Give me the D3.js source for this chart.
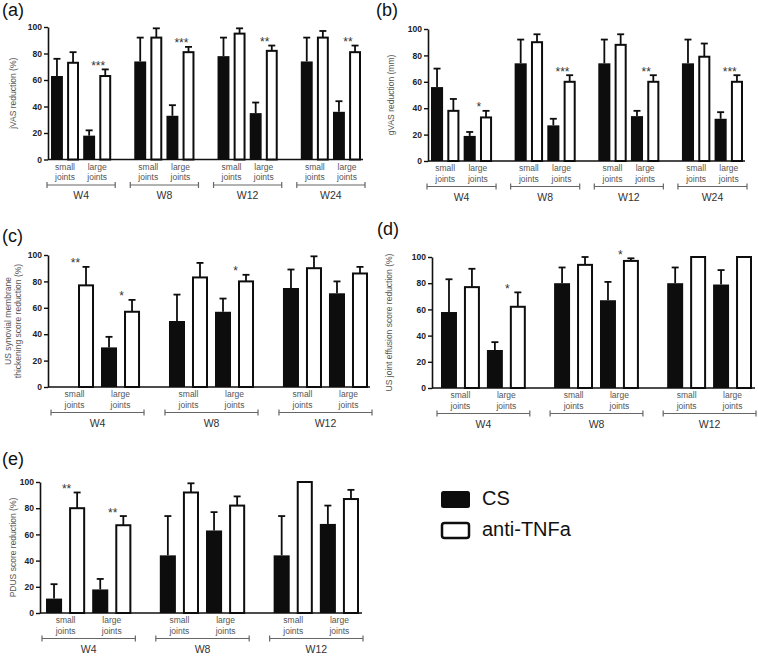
<!DOCTYPE html>
<html><head><meta charset="utf-8">
<script src="https://cdn.jsdelivr.net/npm/d3@7"></script>
<style>body{margin:0;background:#fff} svg{display:block;font-family:"Liberation Sans",Arial,sans-serif}</style>
</head><body><svg id="chart" width="758" height="657"></svg>
<script>
// ---------- data ----------
const weeksAB = ["W4","W8","W12","W24"];
const weeksCDE = ["W4","W8","W12"];
const jointTypes = ["small","large"];
const yTicks = [0,20,40,60,80,100];
const seriesNames = ["CS","anti-TNFa"];

// order per week: small, large
const aCS = [63,18, 74,33, 78,35, 74,36];
const aCSerr = [13,4, 18,8, 14,8, 18,8];
const aTNF = [73,63, 92,81, 95,82, 92,81];
const aTNFerr = [8,5, 7,4, 4,4, 5,5];
const aStars = ["","***", "","***", "","**", "","**"];

const bCS = [56,19, 74,27, 74,34, 74,32];
const bCSerr = [14,3, 18,5, 18,4, 18,5];
const bTNF = [38,33, 90,60, 88,60, 79,60];
const bTNFerr = [9,5, 6,5, 8,5, 10,5];
const bStars = ["","*", "","***", "","**", "","***"];

const cCS = [0,30, 50,57, 75,71];
const cCSerr = [0,8, 20,10, 14,9];
const cTNF = [77,57, 83,80, 90,86];
const cTNFerr = [14,9, 11,5, 9,5];
const cStars = ["**","*", "","*", "",""];

const dCS = [58,29, 80,67, 80,79];
const dCSerr = [25,6, 12,14, 12,11];
const dTNF = [77,62, 94,97, 100,100];
const dTNFerr = [14,11, 6,2, 0,0];
const dStars = ["","*", "","*", "",""];

const eCS = [11,18, 44,63, 44,68];
const eCSerr = [11,8, 30,14, 30,14];
const eTNF = [80,67, 92,82, 100,87];
const eTNFerr = [12,7, 7,7, 0,7];
const eStars = ["**","**", "","", "",""];

// ---------- layout ----------
const panels = [
  {label:"(a)", lx:2, ly:16, weeks:weeksAB, cs:aCS, csErr:aCSerr, tnf:aTNF, tnfErr:aTNFerr, stars:aStars,
   axisX:48, y0:159.5, y100:27, xs:51, xe:361, padG:0.277, padB:0.26, baseEnd:363,
   title:["jVAS reduction (%)"], tx:14},
  {label:"(b)", lx:376, ly:16, weeks:weeksAB, cs:bCS, csErr:bCSerr, tnf:bTNF, tnfErr:bTNFerr, stars:bStars,
   axisX:428, y0:161, y100:29, xs:431, xe:743, padG:0.27, padB:0.26, baseEnd:745,
   title:["gVAS reduction (mm)"], tx:392},
  {label:"(c)", lx:2, ly:242, weeks:weeksCDE, cs:cCS, csErr:cCSerr, tnf:cTNF, tnfErr:cTNFerr, stars:cStars,
   axisX:48, y0:387, y100:255, xs:55, xe:368, padG:0.254, padB:0.304, baseEnd:370,
   title:["US synovial membrane","thickening score reduction (%)"], tx:14},
  {label:"(d)", lx:377, ly:235, weeks:weeksCDE, cs:dCS, csErr:dCSerr, tnf:dTNF, tnfErr:dTNFerr, stars:dStars,
   axisX:432, y0:388, y100:257, xs:441, xe:752, padG:0.25, padB:0.304, baseEnd:755,
   title:["US joint effusion score reduction (%)"], tx:390},
  {label:"(e)", lx:2, ly:465, weeks:weeksCDE, cs:eCS, csErr:eCSerr, tnf:eTNF, tnfErr:eTNFerr, stars:eStars,
   axisX:40, y0:613, y100:482, xs:46, xe:359, padG:0.25, padB:0.304, baseEnd:362,
   title:["PDUS score reduction (%)"], tx:14}
];

const svg = d3.select("#chart");
const black = "#0d0d0d";
const grey = "#555";

function drawPanel(p) {
  const g = svg.append("g");
  const y = d3.scaleLinear().domain([0,100]).range([p.y0, p.y100]);
  const xg = d3.scaleBand().domain(p.weeks).range([p.xs, p.xe]).paddingInner(p.padG).paddingOuter(0);
  const xb = d3.scaleBand().domain([0,1,2,3]).range([0, xg.bandwidth()]).paddingInner(p.padB).paddingOuter(0);

  // panel label
  g.append("text").attr("x", p.lx).attr("y", p.ly).attr("font-size", 18).attr("fill", "#111").text(p.label);

  // y axis
  const ax = g.append("g").attr("transform", `translate(${p.axisX},0)`)
    .call(d3.axisLeft(y).tickValues(yTicks).tickSize(4).tickSizeOuter(0).tickPadding(2));
  ax.select(".domain").attr("stroke", "#111").attr("stroke-width", 1.6);
  ax.selectAll(".tick line").attr("stroke", "#111").attr("stroke-width", 1.4);
  ax.selectAll(".tick text").attr("font-size", 8.5).attr("font-weight", "bold").attr("fill", "#222")
    .attr("font-family", "Liberation Sans, Arial, sans-serif");

  // baseline
  g.append("line").attr("x1", p.axisX).attr("x2", p.baseEnd).attr("y1", y(0)).attr("y2", y(0))
    .attr("stroke", "#111").attr("stroke-width", 1.6);

  // y title
  const tcy = (p.y0 + p.y100) / 2;
  p.title.forEach((t, k) => {
    const xx = p.tx + (k - (p.title.length - 1) / 2) * 10;
    g.append("text").attr("transform", `translate(${xx},${tcy}) rotate(-90)`)
      .attr("text-anchor", "middle").attr("dominant-baseline", "middle")
      .attr("font-size", 8.5).attr("fill", grey).text(t);
  });

  // bars
  p.weeks.forEach((w, i) => {
    jointTypes.forEach((jt, j) => {
      const idx = i * 2 + j;
      const items = [
        {v: p.cs[idx], e: p.csErr[idx], k: 2 * j, fill: black},
        {v: p.tnf[idx], e: p.tnfErr[idx], k: 2 * j + 1, fill: "#fff"}
      ];
      items.forEach(it => {
        const bx = xg(w) + xb(it.k);
        const bw = xb.bandwidth();
        const cx = bx + bw / 2;
        if (it.e > 0) {
          g.append("line").attr("x1", cx).attr("x2", cx).attr("y1", y(it.v)).attr("y2", y(it.v + it.e))
            .attr("stroke", black).attr("stroke-width", 1.8);
          g.append("line").attr("x1", cx - 3.5).attr("x2", cx + 3.5).attr("y1", y(it.v + it.e)).attr("y2", y(it.v + it.e))
            .attr("stroke", black).attr("stroke-width", 1.8);
        }
        if (it.v > 0) {
          if (it.fill === "#fff") {
            g.append("rect").attr("x", bx + 1).attr("y", y(it.v)).attr("width", bw - 2).attr("height", y(0) - y(it.v))
              .attr("fill", "#fff").attr("stroke", black).attr("stroke-width", 2);
          } else {
            g.append("rect").attr("x", bx).attr("y", y(it.v)).attr("width", bw).attr("height", y(0) - y(it.v))
              .attr("fill", black);
          }
        }
      });
      // joint label
      const pc = xg(w) + (xb(2 * j) + xb(2 * j + 1) + xb.bandwidth()) / 2;
      g.append("text").attr("x", pc).attr("y", y(0) + 10).attr("text-anchor", "middle")
        .attr("font-size", 8.5).attr("fill", grey).text(jt);
      g.append("text").attr("x", pc).attr("y", y(0) + 20.5).attr("text-anchor", "middle")
        .attr("font-size", 8.5).attr("fill", grey).text("joints");
      // significance stars
      const s = p.stars[idx];
      if (s) {
        const top = Math.max(p.cs[idx] + p.csErr[idx], p.tnf[idx] + p.tnfErr[idx]);
        g.append("text").attr("x", pc + 1).attr("y", y(top + 5) + 7).attr("text-anchor", "middle")
          .attr("font-size", 12).attr("fill", "#333").text(s);
      }
    });
    // week bracket
    const bx0 = xg(w) - 4, bx1 = xg(w) + xg.bandwidth() + 4, by = y(0) + 25.5;
    g.append("line").attr("x1", bx0).attr("x2", bx1).attr("y1", by).attr("y2", by).attr("stroke", "#666").attr("stroke-width", 1.2);
    [bx0, bx1].forEach(xx => g.append("line").attr("x1", xx).attr("x2", xx).attr("y1", by - 3).attr("y2", by + 3)
      .attr("stroke", "#666").attr("stroke-width", 1.2));
    g.append("text").attr("x", (bx0 + bx1) / 2).attr("y", y(0) + 39.5).attr("text-anchor", "middle")
      .attr("font-size", 10.5).attr("fill", "#333").text(w);
  });
}

panels.forEach(drawPanel);

// legend
const leg = svg.append("g");
seriesNames.forEach((n, i) => {
  const ly = 491 + i * 31;
  leg.append("rect").attr("x", i ? 442 : 441).attr("y", i ? ly + 1 : ly).attr("width", i ? 27 : 29).attr("height", i ? 15 : 17)
    .attr("rx", 2.5).attr("fill", i ? "#fff" : black).attr("stroke", i ? black : "none").attr("stroke-width", 2.5);
  leg.append("text").attr("x", 482).attr("y", ly + 8.5).attr("dominant-baseline", "middle")
    .attr("font-size", 20).attr("fill", "#111").text(n);
});
</script></body></html>
